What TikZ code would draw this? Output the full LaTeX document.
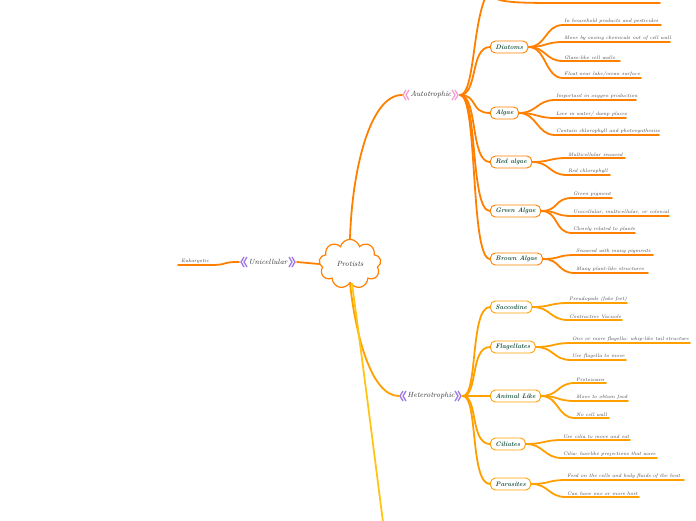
\documentclass[tikz,border=0pt]{standalone}
\usetikzlibrary{shapes.symbols}
\definecolor{oA}{RGB}{255,128,0}
\definecolor{oH}{RGB}{255,160,0}
\definecolor{oY}{RGB}{255,196,20}
\definecolor{tg}{RGB}{20,80,60}
\definecolor{pu}{RGB}{160,120,230}
\definecolor{pk}{RGB}{245,160,210}
\tikzset{
 br/.style={line width=1.8pt,line cap=round},
 kid/.style={draw,rounded corners=5pt,fill=white,line width=0.9pt,anchor=west,inner xsep=5pt,inner ysep=2pt,minimum height=12pt,font=\fontsize{6.5}{7}\selectfont\bfseries\itshape,text=tg},
 lft/.style={anchor=south west,inner sep=1pt,font=\fontsize{5}{5.5}\selectfont\itshape,text=black!75},
 big/.style={font=\fontsize{7.5}{8}\selectfont\itshape,text=black!80,inner sep=1pt}
}
\newcommand\lf[6]{%
 \node[lft] (#2) at (#3,#4+5) {#6};
 \draw[br,\lcol] (#1.east) .. controls +(18,0) and +(-18,0) .. (#2.south west) -- (#5,#4+5);
}
\newcommand\chev[3]{%
 \draw[#3,line width=1.3pt] (#1+3,#2-5) -- (#1,#2) -- (#1+3,#2+5) (#1+6,#2-5) -- (#1+3,#2) -- (#1+6,#2+5);}
\newcommand\chevr[3]{%
 \draw[#3,line width=1.3pt] (#1-3,#2-5) -- (#1,#2) -- (#1-3,#2+5) (#1-6,#2-5) -- (#1-3,#2) -- (#1-6,#2+5);}
\begin{document}
\begin{tikzpicture}[x=1pt,y=-1pt]
\useasboundingbox (0,0) rectangle (696,520);
\node[cloud,cloud puffs=9,draw=oA,line width=1.2pt,fill=white,minimum width=62pt,minimum height=42pt,big] (c) at (350,264) {Protists};
\node[big] (uni) at (268,262) {Unicellular};
\chev{241}{262}{pu}\chevr{295}{262}{pu}
\node[big] (aut) at (431,95) {Autotrophic};
\chev{403}{95}{pk}\chevr{458}{95}{pk}
\node[big] (het) at (431,396) {Heterotrophic};
\chev{400}{396}{pu}\chevr{461}{396}{pu}
\coordinate (autL) at (402,95); \coordinate (autR) at (460,95);
\coordinate (hetL) at (399,396); \coordinate (hetR) at (463,396);
\coordinate (uniL) at (239,262); \coordinate (uniR) at (297,262);
\draw[br,oA] (c.west) -- (uniR);
\node[lft] (euk) at (180,265) {Eukaryotic};
\draw[br,oA] (uniL) .. controls +(-20,0) and +(20,0) .. (euk.south east) -- (178,265);
\draw[br,oA] (c.north) .. controls (352,170) and (370,95) .. (autL);
\draw[br,oH] (c.south) .. controls (355,330) and (370,396) .. (hetL);
\draw[br,oY] (c.south) ++(2,0) coordinate (cy) (cy) .. controls (365,380) and (375,460) .. (383,522);
\coordinate (topc) at (488,-8);
\draw[br,oA] (autR) .. controls (475,95) and (472,20) .. (topc);
\foreach \n/\t/\y in {dia/Diatoms/47, alg/Algae/113, red/Red algae/162, gre/Green Algae/211, bro/Brown Algae/259}{
 \node[kid,draw=oA] (\n) at (490,\y) {\t};
 \draw[br,oA] (autR) .. controls (478,95) and (470,\y) .. (\n.west);
}
\foreach \n/\t/\y in {sac/Saccodine/307, fla/Flagellates/347, ani/Animal Like/396, cil/Ciliates/444, par/Parasites/484}{
 \node[kid,draw=oH] (\n) at (490,\y) {\t};
 \draw[br,oH] (hetR) .. controls (478,396) and (470,\y) .. (\n.west);
}
\def\lcol{oA}
\draw[br,oA] (topc) .. controls (495,2) and (505,3) .. (560,3) -- (660,3);
\lf{dia}{d1}{563}{20}{661}{In household products and pesticides}
\lf{dia}{d2}{563}{37}{670}{Move by oozing chemicals out of cell wall}
\lf{dia}{d3}{563}{56}{620}{Glass-like cell walls}
\lf{dia}{d4}{563}{73}{641}{Float near lake/ocean surface}
\lf{alg}{a1}{555}{95}{636}{Important in oxygen production}
\lf{alg}{a2}{555}{113}{626}{Live in water/ damp places}
\lf{alg}{a3}{555}{130}{659}{Contain chlorophyll and photosynthesize}
\lf{red}{r1}{567}{153}{625}{Multicellular seaweed}
\lf{red}{r2}{567}{170}{610}{Red chlorophyll}
\lf{gre}{g1}{572}{193}{612}{Green pigment}
\lf{gre}{g2}{572}{211}{669}{Unicellular, multicellular, or colonial}
\lf{gre}{g3}{572}{228}{635}{Closely related to plants}
\lf{bro}{b1}{575}{250}{653}{Seaweed with many pigments}
\lf{bro}{b2}{575}{268}{648}{Many plant-like structures}
\def\lcol{oH}
\lf{sac}{s1}{568}{298}{627}{Pseudopods (fake feet)}
\lf{sac}{s2}{568}{315}{622}{Contractive Vacuole}
\lf{fla}{f1}{571}{338}{690}{One or more flagella: whip-like tail structure}
\lf{fla}{f2}{571}{355}{626}{Use flagella to move}
\lf{ani}{n1}{575}{378}{606}{Protozoans}
\lf{ani}{n2}{575}{396}{628}{Move to obtain food}
\lf{ani}{n3}{575}{413}{609}{No cell wall}
\lf{cil}{c1}{562}{435}{630}{Use cilia to move and eat}
\lf{cil}{c2}{562}{453}{657}{Cilia- hairlike projections that wave}
\lf{par}{p1}{566}{475}{684}{Feed on the cells and body fluids of the host}
\lf{par}{p2}{566}{492}{639}{Can have one or more host}
\end{tikzpicture}
\end{document}
